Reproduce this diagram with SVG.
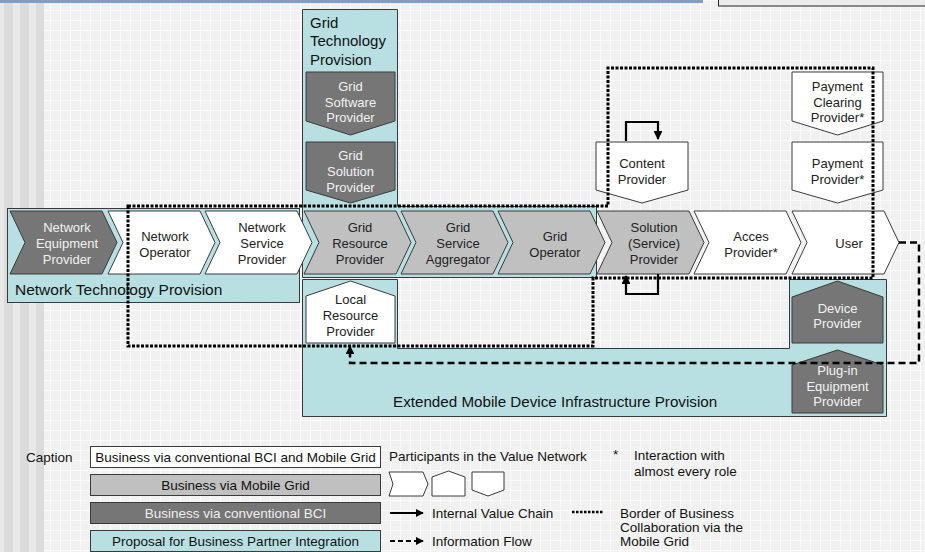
<svg xmlns="http://www.w3.org/2000/svg" width="925" height="552" viewBox="0 0 925 552">
<defs>
<pattern id="grid" x="0" y="0" width="10" height="10" patternUnits="userSpaceOnUse">
<rect width="10" height="10" fill="#f1f1f1"/>
<path d="M0 0.5H10M0.5 0V10" stroke="#fbfbfb" stroke-width="1"/>
</pattern>
<marker id="ah" viewBox="0 0 10 10" refX="9" refY="5" markerWidth="4" markerHeight="4" orient="auto" markerUnits="strokeWidth">
<path d="M0 0L10 5L0 10z" fill="#000"/>
</marker>
<marker id="ahs" viewBox="0 0 10 10" refX="9" refY="5" markerWidth="3.5" markerHeight="3.5" orient="auto" markerUnits="strokeWidth">
<path d="M0 0L10 5L0 10z" fill="#000"/>
</marker>
</defs>
<style>
text{font-family:"Liberation Sans",Arial,sans-serif;}
.t13{font-size:13px;text-anchor:middle;fill:#222;}
.t13w{font-size:13px;text-anchor:middle;fill:#f2f2f2;}
.t15{font-size:15.5px;fill:#111;}
.t12{font-size:13.5px;fill:#111;}
.dark{fill:#767676;stroke:#3a3a3a;stroke-width:1;}
.light{fill:#c0c0c0;stroke:#3a3a3a;stroke-width:1;}
.white{fill:#ffffff;stroke:#3a3a3a;stroke-width:1;}
.blue{fill:#b8e0e3;stroke:#3a3a3a;stroke-width:1;}
.loop{fill:none;stroke:#000;stroke-width:2.2;}
.info{fill:none;stroke:#000;stroke-width:2.5;stroke-dasharray:7 4;}
.border{fill:none;stroke:#000;stroke-width:3;stroke-dasharray:3 1.5;}
</style>
<rect width="925" height="552" fill="url(#grid)"/>
<g id="stripes">
<rect x="0" y="0" width="44" height="552" fill="#e9e9e9"/>
<rect x="4" y="0" width="9" height="552" fill="#dbdbdb"/>
<rect x="20" y="0" width="9" height="552" fill="#dbdbdb"/>
<rect x="36" y="0" width="8" height="552" fill="#dbdbdb"/>
</g>
<rect x="0" y="0" width="703" height="3" fill="#7f9dc6"/>
<rect x="718.5" y="-2" width="210" height="8" fill="#ececec" stroke="#222" stroke-width="1"/>

<g id="network-technology-provision">
<rect class="blue" x="7.5" y="208.5" width="292" height="94"/>
<text class="t15" x="15" y="294.5">Network Technology Provision</text>
</g>
<g id="grid-technology-provision">
<path class="blue" d="M302.5 9.5H397.5V206.5H596.5V277.5H302.5Z"/>
<text class="t15" x="310" y="27.5" style="font-size:15px">Grid</text>
<text class="t15" x="310" y="46" style="font-size:15px">Technology</text>
<text class="t15" x="310" y="64.5" style="font-size:15px">Provision</text>
</g>
<g id="extended-mobile-device-infrastructure-provision">
<path class="blue" d="M302.5 279.5H397.5V348.5H789.5V279.5H886.5V416.5H302.5Z"/>
<text class="t15" x="393" y="407" style="font-size:15.2px">Extended Mobile Device Infrastructure Provision</text>
</g>

<g id="network-equipment-provider">
<polygon class="dark" points="10,211 102,211 117,242.5 102,274 10,274 25,242.5"/>
<text class="t13w" x="67" y="231.5">Network</text><text class="t13w" x="67" y="247.5">Equipment</text><text class="t13w" x="67" y="263.5">Provider</text>
</g>
<g id="network-operator">
<polygon class="white" points="108,211 200,211 215,242.5 200,274 108,274 123,242.5"/>
<text class="t13" x="165" y="240.5">Network</text><text class="t13" x="165" y="256.5">Operator</text>
</g>
<g id="network-service-provider">
<polygon class="white" points="205,211 297,211 312,242.5 297,274 205,274 220,242.5"/>
<text class="t13" x="262" y="231.5">Network</text><text class="t13" x="262" y="247.5">Service</text><text class="t13" x="262" y="263.5">Provider</text>
</g>
<g id="grid-resource-provider">
<polygon class="light" points="304,211 396,211 411,242.5 396,274 304,274 319,242.5"/>
<text class="t13" x="360" y="231.5">Grid</text><text class="t13" x="360" y="247.5">Resource</text><text class="t13" x="360" y="263.5">Provider</text>
</g>
<g id="grid-service-aggregator">
<polygon class="light" points="401,211 493,211 508,242.5 493,274 401,274 416,242.5"/>
<text class="t13" x="458" y="231.5">Grid</text><text class="t13" x="458" y="247.5">Service</text><text class="t13" x="458" y="263.5">Aggregator</text>
</g>
<g id="grid-operator">
<polygon class="light" points="498,211 590,211 605,242.5 590,274 498,274 513,242.5"/>
<text class="t13" x="555" y="240.5">Grid</text><text class="t13" x="555" y="256.5">Operator</text>
</g>
<g id="solution-service-provider">
<polygon class="light" points="597,211 689,211 704,242.5 689,274 597,274 612,242.5"/>
<text class="t13" x="654" y="231.5">Solution</text><text class="t13" x="654" y="247.5">(Service)</text><text class="t13" x="654" y="263.5">Provider</text>
</g>
<g id="acces-provider">
<polygon class="white" points="694,211 786,211 801,242.5 786,274 694,274 709,242.5"/>
<text class="t13" x="751" y="240.5">Acces</text><text class="t13" x="751" y="256.5">Provider*</text>
</g>
<g id="user">
<polygon class="white" points="792,211 884,211 899,242.5 884,274 792,274 807,242.5"/>
<text class="t13" x="849" y="247.5">User</text>
</g>

<g id="grid-software-provider">
<polygon class="dark" points="306,72 395,72 395,121 350.5,135 306,121"/>
<text class="t13w" x="350.5" y="90.5">Grid</text><text class="t13w" x="350.5" y="106.5">Software</text><text class="t13w" x="350.5" y="122">Provider</text>
</g>
<g id="grid-solution-provider">
<polygon class="dark" points="306,142 395,142 395,190 350.5,203 306,190"/>
<text class="t13w" x="350.5" y="159.5">Grid</text><text class="t13w" x="350.5" y="176">Solution</text><text class="t13w" x="350.5" y="191.5">Provider</text>
</g>
<g id="content-provider">
<polygon class="white" points="596,142 688,142 688,190 642,203 596,190"/>
<text class="t13" x="642" y="167.5">Content</text><text class="t13" x="642" y="183.5">Provider</text>
</g>
<g id="payment-clearing-provider">
<polygon class="white" points="792,72 883,72 883,121 837.5,135 792,121"/>
<text class="t13" x="837.5" y="90.5">Payment</text><text class="t13" x="837.5" y="106.5">Clearing</text><text class="t13" x="837.5" y="122">Provider*</text>
</g>
<g id="payment-provider">
<polygon class="white" points="792,142 883,142 883,190 837.5,203 792,190"/>
<text class="t13" x="837.5" y="167.5">Payment</text><text class="t13" x="837.5" y="183.5">Provider*</text>
</g>
<g id="local-resource-provider">
<polygon class="white" points="350.5,281 395,296 395,343 306,343 306,296"/>
<text class="t13" x="350.5" y="303.5">Local</text><text class="t13" x="350.5" y="319.5">Resource</text><text class="t13" x="350.5" y="335.5">Provider</text>
</g>
<g id="device-provider">
<polygon class="dark" points="837.5,281 883,297 883,343 792,343 792,297"/>
<text class="t13w" x="837.5" y="312.5">Device</text><text class="t13w" x="837.5" y="328">Provider</text>
</g>
<g id="plug-in-equipment-provider">
<polygon class="dark" points="837.5,350 883,365 883,413 792,413 792,365"/>
<text class="t13w" x="837.5" y="374.5">Plug-in</text><text class="t13w" x="837.5" y="390.5">Equipment</text><text class="t13w" x="837.5" y="405.5">Provider</text>
</g>

<g id="connectors">
<path class="border" d="M128 206H608V68H873V278H593V346H128Z"/>
<path class="loop" d="M626 141V122H658V139" marker-end="url(#ah)"/>
<path class="loop" d="M658 274V294H626V276" marker-end="url(#ah)"/>
<path class="info" d="M899 242.5H919V363H350V346" marker-end="url(#ahs)"/>
</g>

<g id="legend">
<text class="t12" x="26" y="462">Caption</text>
<rect class="white" x="90.5" y="446.5" width="290" height="21"/>
<text class="t12" x="235.5" y="462" text-anchor="middle">Business via conventional BCI and Mobile Grid</text>
<rect class="light" x="90.5" y="474.5" width="290" height="21"/>
<text class="t12" x="235.5" y="490" text-anchor="middle">Business via Mobile Grid</text>
<rect class="dark" x="90.5" y="502.5" width="290" height="21"/>
<text class="t12" x="235.5" y="518" text-anchor="middle" style="fill:#eeeeee">Business via conventional BCI</text>
<rect class="blue" x="90.5" y="530.5" width="290" height="21"/>
<text class="t12" x="235.5" y="546" text-anchor="middle">Proposal for Business Partner Integration</text>
<text class="t12" x="389" y="461">Participants in the Value Network</text>
<polygon class="white" points="389,472 423,472 428,484 423,496 389,496 393,484"/>
<polygon class="white" points="448.5,471 465,477 465,496 432,496 432,477"/>
<polygon class="white" points="472,472 504,472 504,490 488,496 472,490"/>
<path d="M390 513H423" stroke="#000" stroke-width="2" marker-end="url(#ah)"/>
<text class="t12" x="432" y="518">Internal Value Chain</text>
<path d="M390 541H423" stroke="#000" stroke-width="2" stroke-dasharray="5 3" marker-end="url(#ah)"/>
<text class="t12" x="432" y="546">Information Flow</text>
<path d="M572 512H604" stroke="#000" stroke-width="2.5" stroke-dasharray="2.5 1.5"/>
<text class="t12" x="613" y="459">*</text>
<text class="t12" x="634" y="460">Interaction with</text>
<text class="t12" x="634" y="476">almost every role</text>
<text class="t12" x="620" y="518">Border of Business</text>
<text class="t12" x="620" y="532">Collaboration via the</text>
<text class="t12" x="620" y="546">Mobile Grid</text>
</g>
</svg>
